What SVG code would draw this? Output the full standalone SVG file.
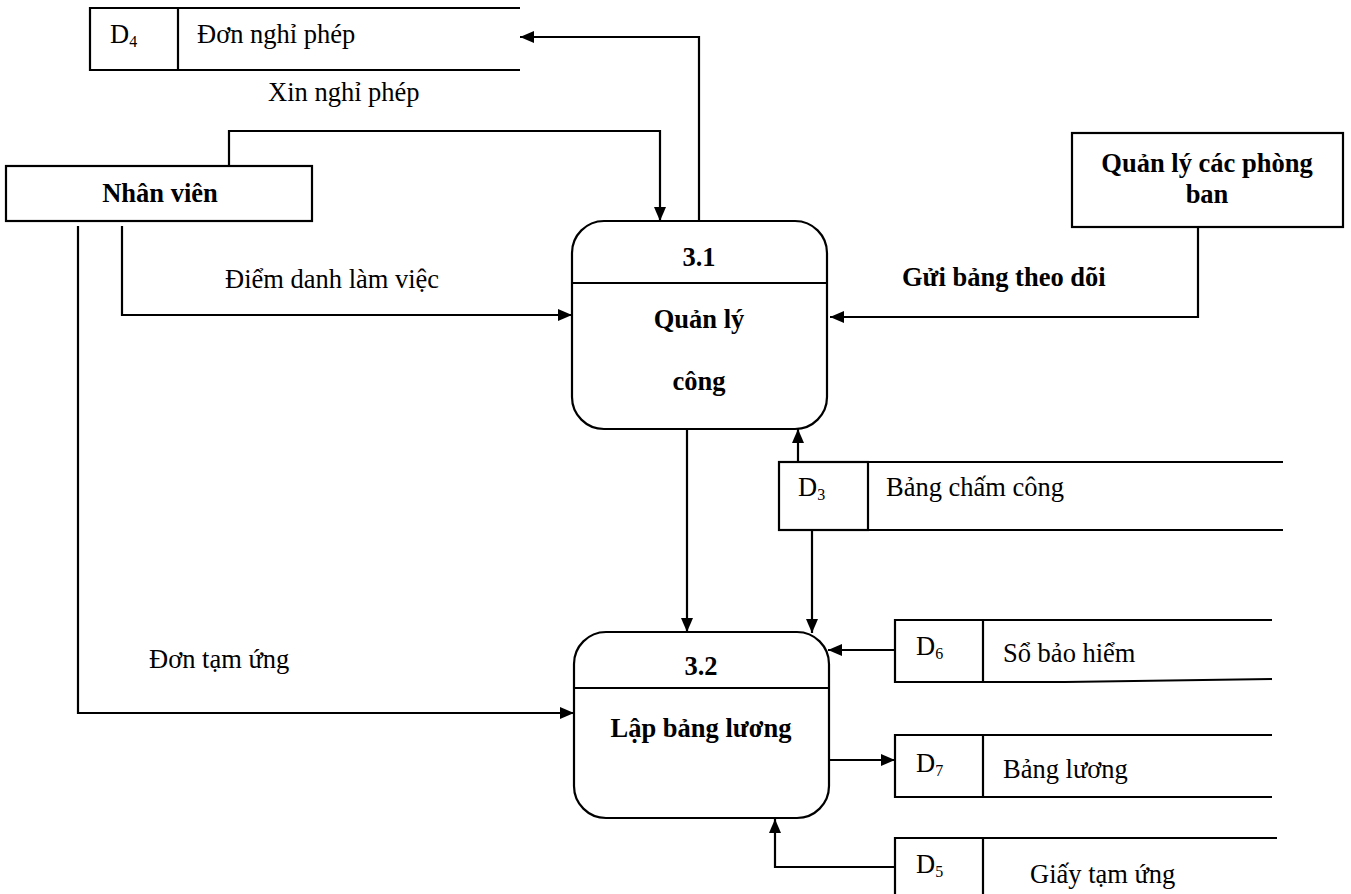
<svg xmlns="http://www.w3.org/2000/svg" width="1351" height="894" viewBox="0 0 1351 894" font-family="'Liberation Serif', 'Times New Roman', serif">
  <style>
    .ln { fill: none; stroke: #000; stroke-width: 2.2; }
    .box { fill: #fff; stroke: #000; stroke-width: 2.2; }
    text { font-family: 'Liberation Serif', 'Times New Roman', serif; fill: #000; }
    .t { font-size: 26.5px; }
    .b { font-size: 26.5px; font-weight: bold; }
    .sub { font-size: 16px; }
  </style>
  <defs>
    <marker id="arrow" viewBox="0 0 14 12" refX="14" refY="6" markerWidth="14" markerHeight="12" markerUnits="userSpaceOnUse" orient="auto">
      <path d="M0,0 L14,6 L0,12 Z" fill="#000"/>
    </marker>
  </defs>

  <rect width="1351" height="894" fill="#fff"/>

  <!-- connectors -->
  <g id="connectors" class="ln" marker-end="url(#arrow)">
    <!-- 3.1 -> D4 -->
    <path d="M699,221 V37 H520"/>
    <!-- Nhân viên -> 3.1 (Xin nghỉ phép) -->
    <path d="M229,166 V131 H660 V221"/>
    <!-- Nhân viên -> 3.1 (Điểm danh làm việc) -->
    <path d="M122,226 V315 H572"/>
    <!-- Nhân viên -> 3.2 (Đơn tạm ứng) -->
    <path d="M78,226 V713 H574"/>
    <!-- Quản lý các phòng ban -> 3.1 -->
    <path d="M1198,227 V317 H830"/>
    <!-- 3.1 -> 3.2 -->
    <path d="M687,429 V632"/>
    <!-- D3 -> 3.1 -->
    <path d="M798,462 V429"/>
    <!-- D3 -> 3.2 -->
    <path d="M812,530 V633"/>
    <!-- D6 -> 3.2 -->
    <path d="M895,650 H828"/>
    <!-- 3.2 -> D7 -->
    <path d="M829,760 H895"/>
    <!-- D5 -> 3.2 -->
    <path d="M895,867 H775 V819"/>
  </g>

  <!-- data store D4 -->
  <g id="store-d4">
    <path class="ln" d="M520,8 H90 V70 H520 M178,8 V70"/>
    <text class="t" x="110" y="43">D<tspan class="sub" dy="4">4</tspan></text>
    <text class="t" x="197" y="43">Đơn nghỉ phép</text>
  </g>

  <text class="t" x="268" y="101">Xin nghỉ phép</text>
  <text class="t" x="225" y="288">Điểm danh làm việc</text>
  <text class="t" x="149" y="668">Đơn tạm ứng</text>
  <text class="b" x="902" y="286">Gửi bảng theo dõi</text>

  <!-- external entity: Nhân viên -->
  <g id="entity-nhan-vien">
    <rect class="box" x="6" y="166" width="306" height="55"/>
    <text class="b" x="160" y="202" text-anchor="middle">Nhân viên</text>
  </g>

  <!-- external entity: Quản lý các phòng ban -->
  <g id="entity-phong-ban">
    <rect class="box" x="1072" y="133" width="271" height="94"/>
    <text class="b" x="1207" y="172" text-anchor="middle">Quản lý các phòng</text>
    <text class="b" x="1207" y="203" text-anchor="middle">ban</text>
  </g>

  <!-- process 3.1 -->
  <g id="process-3-1">
    <rect class="box" x="572" y="221" width="255" height="208" rx="32" ry="32"/>
    <line class="ln" x1="572" y1="283" x2="827" y2="283"/>
    <text class="b" x="699" y="266" text-anchor="middle">3.1</text>
    <text class="b" x="699" y="328" text-anchor="middle">Quản lý</text>
    <text class="b" x="699" y="390" text-anchor="middle">công</text>
  </g>

  <!-- data store D3 -->
  <g id="store-d3">
    <rect class="box" x="779" y="462" width="89" height="68"/>
    <path class="ln" d="M868,462 H1283 M868,530 H1283"/>
    <text class="t" x="798" y="496">D<tspan class="sub" dy="4">3</tspan></text>
    <text class="t" x="886" y="496">Bảng chấm công</text>
  </g>

  <!-- process 3.2 -->
  <g id="process-3-2">
    <rect class="box" x="574" y="632" width="255" height="186" rx="32" ry="32"/>
    <line class="ln" x1="574" y1="688" x2="829" y2="688"/>
    <text class="b" x="701" y="675" text-anchor="middle">3.2</text>
    <text class="b" x="701" y="737" text-anchor="middle">Lập bảng lương</text>
  </g>

  <!-- data store D6 -->
  <g id="store-d6">
    <path class="ln" d="M1272,620 H895 V682 H1065 L1272,679 M983,620 V682"/>
    <text class="t" x="916" y="655">D<tspan class="sub" dy="4">6</tspan></text>
    <text class="t" x="1003" y="662">Sổ bảo hiểm</text>
  </g>

  <!-- data store D7 -->
  <g id="store-d7">
    <path class="ln" d="M1272,735 H895 V797 H1272 M983,735 V797"/>
    <text class="t" x="916" y="772">D<tspan class="sub" dy="4">7</tspan></text>
    <text class="t" x="1003" y="778">Bảng lương</text>
  </g>

  <!-- data store D5 -->
  <g id="store-d5">
    <path class="ln" d="M1277,838 H895 V894 M983,838 V894"/>
    <text class="t" x="916" y="873">D<tspan class="sub" dy="4">5</tspan></text>
    <text class="t" x="1030" y="883">Giấy tạm ứng</text>
  </g>
</svg>
